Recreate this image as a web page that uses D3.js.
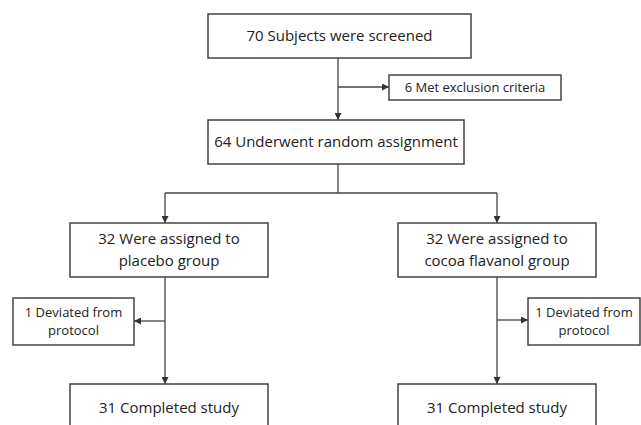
<!DOCTYPE html>
<html>
<head>
<meta charset="utf-8">
<script src="https://cdn.jsdelivr.net/npm/d3@7"></script>
<style>
  body { margin: 0; background: #fff; }
  svg { display: block; }
  text { font-family: "Open Sans", "Noto Sans", sans-serif; fill: #222; }
</style>
</head>
<body>
<svg></svg>
<script>
let width = 641;
let height = 425;

// counts shown in the flow
let screened = 70;
let excluded = 6;
let randomized = 64;
let groups = ["placebo group", "cocoa flavanol group"];
let assigned = [32, 32];
let deviated = [1, 1];
let completed = [31, 31];

// box geometry (layout only)
let boxes = [
    {id: "screen", x0: 208, x1: 471, y0: 14, y1: 58, lines: [`${screened} Subjects were screened`], size: 15},
    {id: "excl", x0: 389, x1: 561, y0: 75, y1: 100, lines: [`${excluded} Met exclusion criteria`], size: 13},
    {id: "rand", x0: 208, x1: 464, y0: 120, y1: 164, lines: [`${randomized} Underwent random assignment`], size: 15},
    {id: "g0", x0: 70, x1: 268, y0: 223, y1: 277, lines: [`${assigned[0]} Were assigned to`, groups[0]], size: 15},
    {id: "g1", x0: 398, x1: 596, y0: 223, y1: 277, lines: [`${assigned[1]} Were assigned to`, groups[1]], size: 15},
    {id: "d0", x0: 13, x1: 134, y0: 298, y1: 345, lines: [`${deviated[0]} Deviated from`, "protocol"], size: 13},
    {id: "d1", x0: 528, x1: 640, y0: 298, y1: 345, lines: [`${deviated[1]} Deviated from`, "protocol"], size: 13},
    {id: "c0", x0: 70, x1: 268, y0: 384, y1: 440, lines: [`${completed[0]} Completed study`], size: 15, ty: 408},
    {id: "c1", x0: 398, x1: 596, y0: 384, y1: 440, lines: [`${completed[1]} Completed study`], size: 15, ty: 408}
];

const svg = d3.select("svg")
    .attr("width", width)
    .attr("height", height)
    .attr("viewBox", [0, 0, width, height]);

svg.append("defs").append("marker")
    .attr("id", "arrow")
    .attr("viewBox", "0 0 10 10")
    .attr("refX", 10)
    .attr("refY", 5)
    .attr("markerWidth", 9)
    .attr("markerHeight", 7)
    .attr("markerUnits", "userSpaceOnUse")
    .attr("orient", "auto")
    .append("path")
    .attr("d", "M0,0L10,5L0,10z")
    .attr("fill", "#333");

let stroke = "#444";
let cx0 = 338, cxL = 165, cxR = 497;

// connectors: [points, arrow?]
let links = [
    [[[cx0, 58], [cx0, 120]], true],
    [[[cx0, 87], [389, 87]], true],
    [[[cx0, 164], [cx0, 193]], false],
    [[[cxL, 193], [cxR, 193]], false],
    [[[cxL, 193], [cxL, 223]], true],
    [[[cxR, 193], [cxR, 223]], true],
    [[[cxL, 277], [cxL, 384]], true],
    [[[cxL, 321], [134, 321]], true],
    [[[cxR, 277], [cxR, 384]], true],
    [[[cxR, 320], [528, 320]], true]
];

let line = d3.line();

svg.append("g")
    .selectAll("path")
    .data(links)
    .join("path")
    .attr("d", d => line(d[0]))
    .attr("fill", "none")
    .attr("stroke", stroke)
    .attr("stroke-width", 1.3)
    .attr("marker-end", d => d[1] ? "url(#arrow)" : null);

const g = svg.append("g")
    .selectAll("g")
    .data(boxes)
    .join("g");

g.append("rect")
    .attr("x", d => d.x0)
    .attr("y", d => d.y0)
    .attr("width", d => d.x1 - d.x0)
    .attr("height", d => d.y1 - d.y0)
    .attr("fill", "#fff")
    .attr("stroke", stroke)
    .attr("stroke-width", 1.5);

g.each(function (d) {
    const cx = (d.x0 + d.x1) / 2;
    const cy = d.ty !== undefined ? d.ty : (d.y0 + d.y1) / 2;
    const lh = d.size * 1.45;
    const n = d.lines.length;
    d3.select(this).selectAll("text")
        .data(d.lines)
        .join("text")
        .attr("x", cx)
        .attr("y", (t, i) => cy + (i - (n - 1) / 2) * lh)
        .attr("dy", "0.35em")
        .attr("text-anchor", "middle")
        .attr("font-size", d.size)
        .text(t => t);
});
</script>
</body>
</html>
